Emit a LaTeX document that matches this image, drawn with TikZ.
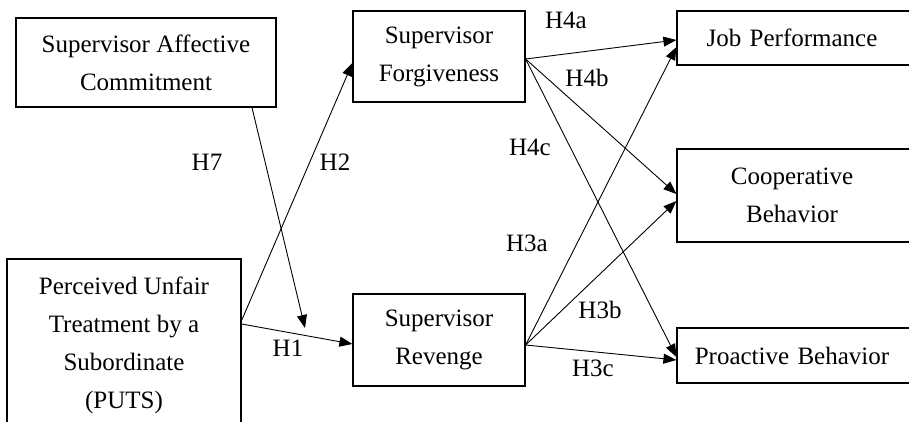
\documentclass[tikz,border=0pt]{standalone}
\usepackage{fontspec}
\setmainfont{Liberation Serif}
\usetikzlibrary{arrows.meta}
\tikzset{
  box/.style={draw=black, line width=1.2pt, inner sep=0pt, align=center,
    font=\fontsize{25}{38}\selectfont},
  lbl/.style={inner sep=0pt, font=\fontsize{25}{30}\selectfont},
  conn/.style={draw=black, line width=0.9pt, -{Triangle[length=13pt,width=10pt]}}
}
\begin{document}
\begin{tikzpicture}[x=1pt,y=-1pt]
\useasboundingbox (0,0) rectangle (909,422);
\clip (0,0) rectangle (909,422);
\fill[white] (0,0) rectangle (909,422);
% boxes
\node[box, minimum width=260pt, minimum height=89pt] (SAC) at (146,62.5) {Supervisor Affective\\Commitment};
\node[box, minimum width=172pt, minimum height=91pt] (SF) at (439,56.5) {Supervisor\\Forgiveness};
\node[box, minimum width=172pt, minimum height=92pt] (SR) at (439,340) {Supervisor\\Revenge};
\node[box, minimum width=234pt, minimum height=173pt] (PUTS) at (124,345.5) {Perceived Unfair\\Treatment by a\\Subordinate\\(PUTS)};
\node[box, minimum width=240pt, minimum height=54pt, text width=240pt] (JP) at (797,38) {\hspace*{-10pt}Job Performance};
\node[box, minimum width=240pt, minimum height=93pt, text width=240pt] (CB) at (797,195.5) {\hspace*{-10pt}Cooperative\\\hspace*{-10pt}Behavior};
\node[box, minimum width=240pt, minimum height=55pt, text width=240pt] (PB) at (797,355.5) {\hspace*{-10pt}Proactive Behavior};
% helper coordinate for moderation arrow end
\coordinate (H7end) at (305,328);
% connectors
\draw[conn] ([yshift=25pt]PUTS.east) -- ([yshift=-6.5pt]SF.west);
\draw[conn] ([yshift=21.5pt]PUTS.east) -- ([yshift=-4pt]SR.west);
\draw[conn] ([xshift=106pt]SAC.south) -- (H7end);
\draw[conn] ([yshift=-2.5pt]SF.east) -- ([yshift=-2pt]JP.west);
\draw[conn] ([yshift=-2.5pt]SF.east) -- ([yshift=1.5pt]CB.west);
\draw[conn] ([yshift=-2.5pt]SF.east) -- ([yshift=-1.5pt]PB.west);
\draw[conn] ([yshift=-5pt]SR.east) -- ([yshift=-9pt]JP.west);
\draw[conn] ([yshift=-5pt]SR.east) -- ([yshift=-5.5pt]CB.west);
\draw[conn] ([yshift=-5pt]SR.east) -- ([yshift=-4.5pt]PB.west);
% labels
\node[lbl] (lH7) at (207,162) {H7};
\node[lbl] (lH2) at (335,162) {H2};
\node[lbl] (lH1) at (288,348) {H1};
\node[lbl] (lH4a) at (566,20) {H4a};
\node[lbl] (lH4b) at (587,78) {H4b};
\node[lbl] (lH4c) at (530,147) {H4c};
\node[lbl] (lH3a) at (527,243) {H3a};
\node[lbl] (lH3b) at (600,310) {H3b};
\node[lbl] (lH3c) at (593,368) {H3c};
\end{tikzpicture}
\end{document}
